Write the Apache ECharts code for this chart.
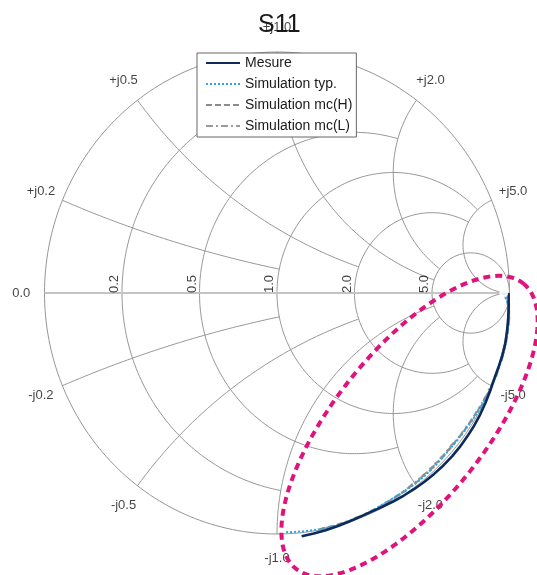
<!DOCTYPE html>
<html><head><meta charset="utf-8">
<script src="https://cdn.jsdelivr.net/npm/echarts/dist/echarts.min.js"></script>
<style>html,body{margin:0;padding:0;background:#fff}#c{width:537px;height:575px}</style>
</head><body><div id="c"></div>
<script>
// ---- Smith chart grid definition ----
const resistanceValues = [0.2, 0.5, 1.0, 2.0, 5.0];
const resistanceLimits = [1, 2, 5, 5, Infinity];     // |x| extent of each r-circle
const reactanceValues  = [0.2, 0.5, 1.0, 2.0, 5.0];
const reactanceLimits  = [1, 2, 5, 5, Infinity];     // r extent of each x-arc
const resistanceLabels = ['0.2', '0.5', '1.0', '2.0', '5.0'];
const reactanceLabels  = ['0.2', '0.5', '1.0', '2.0', '5.0'];
const zeroLabel = '0.0';

// ---- S11 traces (magnitude, angle in degrees) ----
const mesureAng = [0,-3,-6,-9,-12,-15,-18,-21,-24,-27,-30,-33,-36,-39,-42,-45,-48,-51,-54,-57,-60,-63,-66,-69,-72,-75,-78,-81,-84];
const mesureMag = [0.996,0.998,1.0,1.002,1.004,1.003,1.001,1.0,1.003,1.006,1.009,1.011,1.012,1.013,1.013,1.012,1.01,1.008,1.005,1.002,0.999,0.996,0.994,0.995,0.998,1.002,1.006,1.01,1.015];

const simTypAng = [0,-2,-4,-6,-8,-10,-12,-14,-16,-18,-20,-22,-24,-26,-28,-30,-32,-34,-36,-38,-40,-42,-44,-46,-48,-50,-52,-54,-56,-58,-60,-62,-64,-66,-68,-70,-72,-74,-76,-78,-80,-82,-84,-86,-88];
const simTypMag = [0.975,0.99,1.0,1.003,1.004,1.005,1.006,1.006,1.005,1.004,1.003,1.002,1.0,0.998,0.996,0.994,0.992,0.99,0.988,0.987,0.986,0.986,0.987,0.988,0.989,0.99,0.99,0.989,0.988,0.987,0.987,0.988,0.99,0.992,0.994,0.996,0.997,0.998,0.998,0.998,0.997,0.996,0.995,0.994,0.993];

const mcHAng = [0,-2,-4,-6,-8,-10,-12,-14,-16,-18,-20,-22,-24,-26,-28,-30,-32,-34,-36,-38,-40,-42,-44,-46,-48,-50,-52,-54,-56,-58,-60,-62,-64,-66,-68,-70,-72,-74,-76,-78,-80];
const mcHMag = [0.978,0.992,1.001,1.004,1.006,1.004,1.007,1.004,1.006,1.002,1.004,0.999,1.0,0.994,0.996,0.989,0.992,0.985,0.99,0.982,0.988,0.981,0.987,0.982,0.988,0.983,0.989,0.984,0.99,0.986,0.991,0.987,0.992,0.99,0.994,0.992,0.996,0.995,0.997,0.996,0.998];

const mcLAng = [0,-2,-4,-6,-8,-10,-12,-14,-16,-18,-20,-22,-24,-26,-28,-30,-32,-34,-36,-38,-40,-42,-44,-46,-48,-50,-52,-54,-56,-58,-60,-62,-64,-66,-68,-70,-72,-74,-76,-78];
const mcLMag = [0.976,0.99,0.999,1.005,1.003,1.006,1.003,1.005,1.001,1.003,0.998,1.0,0.995,0.997,0.991,0.993,0.987,0.99,0.984,0.988,0.98,0.985,0.981,0.986,0.982,0.987,0.983,0.988,0.985,0.99,0.987,0.991,0.989,0.993,0.991,0.995,0.994,0.997,0.996,0.998];

// start marker of the simulations and the marker at the far right end of the real axis
const markerPoints = [[0.975, 0.0], [1.097, 0.0]];

// highlight ellipse (annotation), in reflection-coefficient units
const ellipseCenter = [0.570, -0.552];
const ellipseAxes = [0.768, 0.320];
const ellipseAngleDeg = 50;

// ---- helpers ----
function gam(r, x) {
  const den = (r + 1) * (r + 1) + x * x;
  return [(r * r - 1 + x * x) / den, (2 * x) / den];
}
const N = 260;
function rCircle(r, X) {
  const sm = X === Infinity ? 1 : (2 / Math.PI) * Math.atan(X / (1 + r));
  const pts = [];
  for (let i = 0; i <= N; i++) {
    const s = -sm + 2 * sm * i / N;
    if (Math.abs(s) >= 0.999999) { pts.push([1, 0]); continue; }
    pts.push(gam(r, (1 + r) * Math.tan(s * Math.PI / 2)));
  }
  return pts;
}
function xArc(x, R) {
  const sm = R === Infinity ? 1 : (2 / Math.PI) * Math.atan(R);
  const pts = [];
  for (let i = 0; i <= N; i++) {
    const s = sm * i / N;
    if (s >= 0.999999) { pts.push([1, 0]); continue; }
    pts.push(gam(Math.tan(s * Math.PI / 2), x));
  }
  return pts;
}
function polar(mag, ang) {
  return mag.map((m, i) => {
    const a = ang[i] * Math.PI / 180;
    return [m * Math.cos(a), m * Math.sin(a)];
  });
}

const gridColor = '#969696';
const FONT = 'Liberation Sans, Arial, sans-serif';
const series = [];
function gridLine(data, color, width) {
  series.push({
    type: 'line', data: data, showSymbol: false, symbol: 'none', silent: true,
    lineStyle: { color: color || gridColor, width: width || 1 }, z: 1, clip: false
  });
}
gridLine(rCircle(0, Infinity));
resistanceValues.forEach((r, i) => gridLine(rCircle(r, resistanceLimits[i])));
reactanceValues.forEach((x, i) => {
  gridLine(xArc(x, reactanceLimits[i]));
  gridLine(xArc(-x, reactanceLimits[i]));
});
gridLine([[-1, 0], [1, 0]], '#c4c4c4', 2);

// labels
const reactLabelData = [];
reactanceValues.forEach((x, i) => {
  const p = gam(0, x), q = gam(0, -x);
  reactLabelData.push({ name: '+j' + reactanceLabels[i], value: [p[0] * 1.1, p[1] * 1.1] });
  reactLabelData.push({ name: '-j' + reactanceLabels[i], value: [q[0] * 1.1, q[1] * 1.1] });
});
reactLabelData.push({ name: zeroLabel, value: [-1.1, 0] });
series.push({
  type: 'scatter', data: reactLabelData, symbolSize: 0, silent: true, z: 6, clip: false,
  label: { show: true, position: 'inside', formatter: '{b}', color: '#111',
           fontSize: 13, fontFamily: FONT }
});
series.push({
  type: 'scatter', silent: true, z: 6, symbolSize: 0, clip: false,
  data: resistanceValues.map((r, i) => ({ name: resistanceLabels[i], value: [(r - 1) / (r + 1), 0] })),
  label: { show: true, position: 'inside', formatter: '{b}', color: '#111', rotate: 90,
           align: 'left', verticalAlign: 'bottom', offset: [0, -1],
           fontSize: 13, fontFamily: FONT }
});

// traces
series.push({
  name: 'Simulation mc(L)', type: 'line', data: polar(mcLMag, mcLAng), symbol: 'none', z: 3, clip: false,
  lineStyle: { color: '#9b9b9b', width: 2, type: [7, 3, 2, 3] }, itemStyle: { color: '#9b9b9b' }
});
series.push({
  name: 'Simulation mc(H)', type: 'line', data: polar(mcHMag, mcHAng), symbol: 'none', z: 3, clip: false,
  lineStyle: { color: '#8c8c8c', width: 2, type: [6, 3] }, itemStyle: { color: '#8c8c8c' }
});
series.push({
  name: 'Simulation typ.', type: 'line', data: polar(simTypMag, simTypAng), symbol: 'none', z: 3, clip: false,
  lineStyle: { color: '#2fa8e0', width: 2, type: [2, 2] }, itemStyle: { color: '#2fa8e0' }
});
series.push({
  name: 'Mesure', type: 'line', data: polar(mesureMag, mesureAng), symbol: 'none', z: 4, clip: false,
  lineStyle: { color: '#0c2a5c', width: 2.6 }, itemStyle: { color: '#0c2a5c' }
});
series.push({
  type: 'scatter', data: markerPoints, symbol: 'emptyCircle', symbolSize: 7, silent: true, z: 4, clip: false,
  itemStyle: { color: '#fff', borderColor: '#8a8a8a', borderWidth: 1 }
});

// ellipse annotation
(function () {
  const pts = [], phi = ellipseAngleDeg * Math.PI / 180;
  for (let i = 0; i <= 200; i++) {
    const t = 2 * Math.PI * i / 200;
    const u = ellipseAxes[0] * Math.cos(t), v = ellipseAxes[1] * Math.sin(t);
    pts.push([ellipseCenter[0] + u * Math.cos(phi) - v * Math.sin(phi),
              ellipseCenter[1] + u * Math.sin(phi) + v * Math.cos(phi)]);
  }
  series.push({
    type: 'line', data: pts, symbol: 'none', silent: true, z: 8, clip: false,
    lineStyle: { color: '#e0127c', width: 4, type: [7, 5] }
  });
})();

// plotting frame: unit circle spans x 44..509 px and y 52..534 px; frame fits inside the canvas
const PX_X = 232.5, PX_Y = 241, CX = 277, CY = 293;
const X_MIN = -1.19, X_MAX = (537 - CX) / PX_X, Y_MAX = 1.2, Y_MIN = -(575 - CY) / PX_Y;

const chart = echarts.init(document.getElementById('c'), null, { renderer: 'canvas' });
chart.setOption({
  animation: false,
  backgroundColor: '#fff',
  title: { text: 'S11', left: 253, top: 8,
           textStyle: { fontSize: 25, fontWeight: 'normal', color: '#1a1a1a', fontFamily: FONT } },
  legend: {
    data: ['Mesure', 'Simulation typ.', 'Simulation mc(H)', 'Simulation mc(L)'],
    orient: 'vertical', left: 197, top: 53, itemWidth: 34, itemHeight: 14, itemGap: 7,
    padding: [3, 4, 4, 8], backgroundColor: '#fff', borderColor: '#666', borderWidth: 1, borderRadius: 0,
    itemStyle: { opacity: 0 },
    textStyle: { fontSize: 14, color: '#1a1a1a', fontFamily: FONT },
    selectedMode: false, z: 10
  },
  grid: { left: CX + X_MIN * PX_X, top: CY - Y_MAX * PX_Y,
          width: (X_MAX - X_MIN) * PX_X, height: (Y_MAX - Y_MIN) * PX_Y,
          show: false, containLabel: false, outerBoundsMode: 'none' },
  xAxis: { type: 'value', min: X_MIN, max: X_MAX, show: false },
  yAxis: { type: 'value', min: Y_MIN, max: Y_MAX, show: false },
  series: series
});
</script>
</body></html>
